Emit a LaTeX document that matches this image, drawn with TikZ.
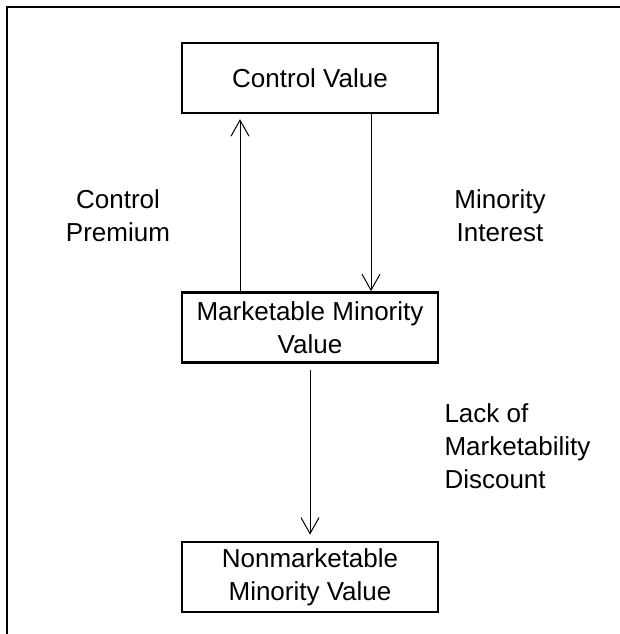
\documentclass[tikz,border=0pt]{standalone}
\usepackage{fontspec}
\setmainfont{Liberation Sans}
\usepackage{tikz}
\usetikzlibrary{arrows.meta,positioning}

\begin{document}
\begin{tikzpicture}[
      x=1pt,y=-1pt,
      font=\fontsize{26}{33}\selectfont,
      node distance=177pt,
      valbox/.style={draw,line width=2.4pt,align=center,minimum height=70pt,minimum width=256pt,inner sep=0pt,fill=white},
      arrow/.style={-{Straight Barb[length=16pt,width=18pt]},line width=1pt},
      note/.style={align=center},
      frame/.style={line width=2.4pt}
    ]
    \useasboundingbox (0,0) rectangle (620,634);
    \draw[frame] (620,7) -- (7,7) -- (7,634);
    \node[valbox] (ctrl) at (310,78) {Control Value};
    \node[valbox,below=of ctrl] (mkt) {Marketable Minority\\Value};
    \node[valbox,below=of mkt] (nonmkt) {Nonmarketable\\Minority Value};
    \draw[arrow] ([xshift=-70pt]mkt.north) -- ([xshift=-70pt,yshift=-5pt]ctrl.south);
    \draw[arrow] ([xshift=61pt]ctrl.south) -- ([xshift=61pt]mkt.north);
    \draw[arrow] ([yshift=-6pt]mkt.south) -- ([yshift=6pt]nonmkt.north);
    \node[note] (prem) at (118,216) {Control\\Premium};
    \node[note] (minint) at (500,216) {Minority\\Interest};
    \node[note,align=left,anchor=west] (lack) at (441,446) {Lack of\\Marketability\\Discount};
  \end{tikzpicture}
\end{document}
